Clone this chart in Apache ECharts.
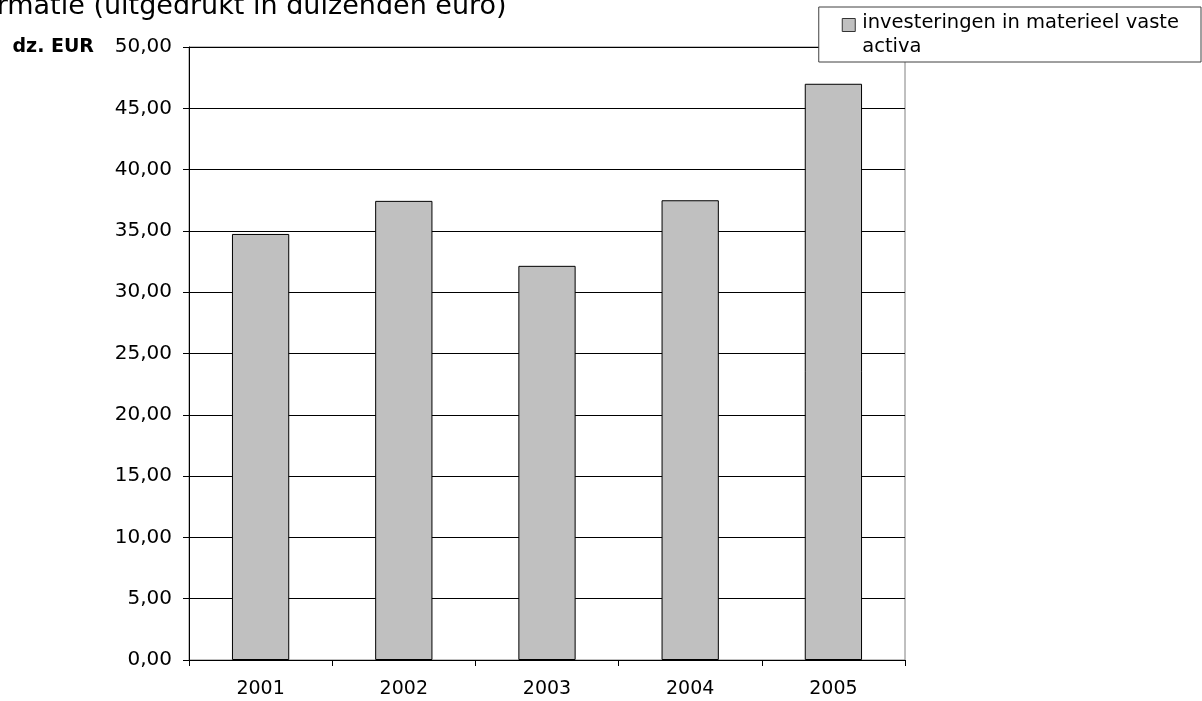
<!DOCTYPE html>
<html>
<head>
<meta charset="utf-8">
<script src="https://cdn.jsdelivr.net/npm/echarts@6/dist/echarts.min.js"></script>
<style>
html,body{margin:0;padding:0;background:#fff;}
#c{width:1202px;height:701px;}
</style>
</head>
<body>
<div id="c"></div>
<script>
const categories = ['2001', '2002', '2003', '2004', '2005'];
const seriesName = 'investeringen in materieel vaste\nactiva';
const values = [34.75, 37.45, 32.15, 37.5, 47.0];
const yAxisName = 'dz. EUR';
const titleText = 'informatie (uitgedrukt in duizenden euro)';

const chart = echarts.init(document.getElementById('c'), null, {renderer: 'canvas'});
const FONT = '"DejaVu Sans", Verdana, sans-serif';
chart.setOption({
  animation: false,
  backgroundColor: '#fff',
  textStyle: {fontFamily: FONT},
  title: {
    text: titleText,
    left: -59, top: -12,
    textStyle: {fontFamily: FONT, fontSize: 27, fontWeight: 'normal', color: '#000'}
  },
  grid: {
    left: 189, right: 297, top: 47, bottom: 41,
    show: true, borderColor: '#808080', borderWidth: 1, backgroundColor: '#fff'
  },
  legend: {
    show: true,
    right: 1, top: 7,
    padding: [3, 22, 3, 23],
    borderColor: '#404040',
    borderWidth: 1,
    backgroundColor: '#fff',
    itemWidth: 13, itemHeight: 48,
    symbolKeepAspect: true,
    textStyle: {fontFamily: FONT, fontSize: 19.5, color: '#000', lineHeight: 24, padding: [0, 0, 0, 2]},
    data: [{
      name: seriesName,
      icon: 'path://M0,0M0,8H13V21H0ZM13,48',
      itemStyle: {color: '#c0c0c0', borderColor: '#333', borderWidth: 1}
    }]
  },
  xAxis: {
    type: 'category',
    data: categories,
    axisLine: {lineStyle: {color: '#000', width: 1}},
    axisTick: {show: true, alignWithLabel: false, length: 6, lineStyle: {color: '#000'}},
    axisLabel: {fontFamily: FONT, fontSize: 19, color: '#000', margin: 20}
  },
  yAxis: {
    type: 'value',
    min: 0, max: 50, interval: 5,
    name: yAxisName,
    nameLocation: 'end',
    nameGap: 0,
    nameTextStyle: {fontFamily: FONT, fontSize: 19, fontWeight: 'bold', color: '#000',
      align: 'right', verticalAlign: 'middle', padding: [15, 95, 0, 0]},
    axisLine: {show: true, lineStyle: {color: '#000', width: 1}},
    axisTick: {show: true, length: 6, lineStyle: {color: '#000'}},
    axisLabel: {fontFamily: FONT, fontSize: 20, color: '#000', margin: 17,
      formatter: v => v.toFixed(2).replace('.', ',')},
    splitLine: {show: true, lineStyle: {color: '#000', width: 1}}
  },
  series: [{
    name: seriesName,
    type: 'bar',
    data: values,
    barWidth: '40%',
    itemStyle: {color: '#c0c0c0', borderColor: '#000', borderWidth: 1}
  }]
});
</script>
</body>
</html>
